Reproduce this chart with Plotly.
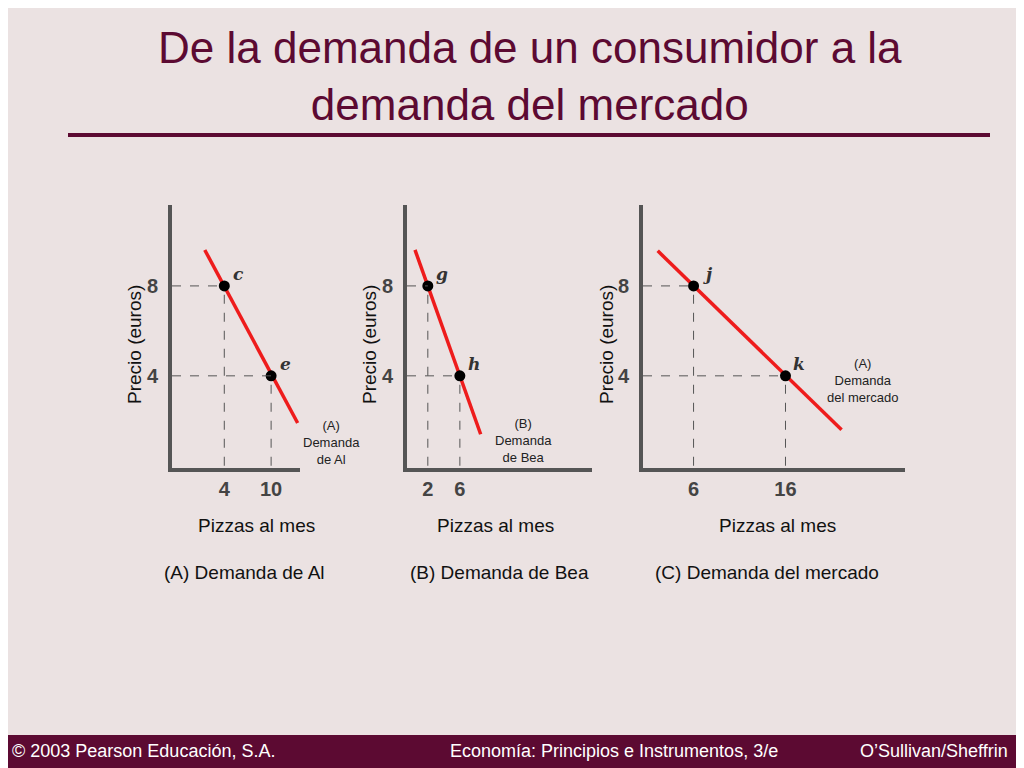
import plotly.graph_objects as go

# data
panels = ["A", "B", "C"]
pt_x = [[4, 10], [2, 6], [6, 16]]
pt_y = [[8, 4], [8, 4], [8, 4]]
pt_lab = [["c", "e"], ["g", "h"], ["j", "k"]]
line_x = [[1.5, 13.4], [0.4, 8.6], [2.1, 22.1]]
line_y = [[9.6, 1.9], [9.6, 1.4], [9.56, 1.6]]
curve_lab = ["(A)<br>Demanda<br>de Al", "(B)<br>Demanda<br>de Bea", "(A)<br>Demanda<br>del mercado"]
captions = ["(A) Demanda de Al", "(B) Demanda de Bea", "(C) Demanda del mercado"]

OFF = 8  # page body offset
def PX(x): return (x - OFF) / 1024
def PY(y): return 1 - (y - OFF) / 768

xdom = [[PX(172), PX(300)], [PX(407), PX(592)], [PX(643), PX(905)]]
xrng = [[-2.7, 13.7], [-0.6, 22.5], [0.5, 29]]
ydom = [PY(468), PY(205)]
yrng = [-0.1, 11.6]
curve_lab_pos = [(331, 442), (523, 440), (863, 381)]
xtitle_pos = [256, 495, 777]
ytitle_x = [135, 370, 607]
cap_pos = [244, 499, 767]

MAROON = "#5c0a32"
fig = go.Figure()
shapes = []
annotations = []
def ann(**kw):
    kw.setdefault("xanchor", "center"); kw.setdefault("yanchor", "middle")
    kw.setdefault("showarrow", False)
    annotations.append(kw)

for i in range(3):
    n = "" if i == 0 else str(i + 1)
    xa, ya = "x" + n, "y" + n
    fig.add_trace(go.Scatter(x=line_x[i], y=line_y[i], mode="lines",
                             line=dict(color="#ee1c1c", width=3.5), xaxis=xa, yaxis=ya, showlegend=False))
    fig.add_trace(go.Scatter(x=pt_x[i], y=pt_y[i], mode="markers",
                             marker=dict(color="black", size=11), xaxis=xa, yaxis=ya, showlegend=False))
    for px, py, lb in zip(pt_x[i], pt_y[i], pt_lab[i]):
        shapes.append(dict(type="line", xref=xa, yref=ya, x0=px, x1=px, y0=0, y1=py,
                           line=dict(color="#555", width=1, dash="dash")))
        shapes.append(dict(type="line", xref=xa, yref=ya, x0=xrng[i][0], x1=px, y0=py, y1=py,
                           line=dict(color="#555", width=1, dash="dash")))
        ann(x=px, y=py, xref=xa, yref=ya, text="<b><i>%s</i></b>" % lb, xshift=14, yshift=12,
            font=dict(family="DejaVu Serif", size=17, color="#333"))
    fig.layout["xaxis" + n] = dict(domain=xdom[i], range=xrng[i], anchor=ya, showgrid=False, zeroline=False,
                                   showline=True, linecolor="#555", linewidth=4,
                                   tickvals=pt_x[i], ticktext=["<b>%d</b>" % v for v in pt_x[i]], ticks="",
                                   tickfont=dict(family="Liberation Sans", size=20, color="#444"))
    fig.layout["yaxis" + n] = dict(domain=ydom, range=yrng, anchor=xa, showgrid=False, zeroline=False,
                                   showline=True, linecolor="#555", linewidth=4,
                                   tickvals=[4, 8], ticktext=["<b>4</b>", "<b>8</b>"], ticks="", ticklabelstandoff=6,
                                   tickfont=dict(family="Liberation Sans", size=20, color="#444"))
    ann(x=PX(curve_lab_pos[i][0]), y=PY(curve_lab_pos[i][1]), xref="paper", yref="paper",
        text=curve_lab[i], font=dict(family="Liberation Sans", size=13, color="#222"))
    ann(x=PX(xtitle_pos[i]), y=PY(525), xref="paper", yref="paper",
        text="Pizzas al mes", font=dict(family="Liberation Sans", size=19, color="#111"))
    ann(x=PX(ytitle_x[i]), y=PY(345), xref="paper", yref="paper", textangle=-90,
        text="Precio (euros)", font=dict(family="Liberation Sans", size=19, color="#111"))
    ann(x=PX(cap_pos[i]), y=PY(572), xref="paper", yref="paper",
        text=captions[i], font=dict(family="Liberation Sans", size=19, color="#111"))

ann(x=PX(530), y=PY(76), xref="paper", yref="paper",
    text="De la demanda de un consumidor a la<br>demanda del mercado",
    font=dict(family="Liberation Sans", size=44, color=MAROON))
shapes.append(dict(type="line", xref="paper", yref="paper", x0=PX(68), x1=PX(990), y0=PY(135), y1=PY(135),
                   line=dict(color=MAROON, width=4)))
shapes.append(dict(type="rect", xref="paper", yref="paper", x0=0, x1=1, y0=PY(768), y1=PY(735),
                   fillcolor=MAROON, line=dict(width=0), layer="below"))
for tx, xx, anc in [("© 2003 Pearson Educación, S.A.", 10, "left"),
                    ("Economía: Principios e Instrumentos, 3/e", 780, "right"),
                    ("O’Sullivan/Sheffrin", 1010, "right")]:
    ann(x=PX(xx), y=PY(751), xref="paper", yref="paper", text=tx, xanchor=anc,
        font=dict(family="Liberation Sans", size=18, color="white"))

fig.update_layout(width=1024, height=768, margin=dict(l=0, r=0, t=0, b=0),
                  paper_bgcolor="#ebe2e2", plot_bgcolor="rgba(0,0,0,0)",
                  shapes=shapes, annotations=annotations)
fig.write_html("out.html")
